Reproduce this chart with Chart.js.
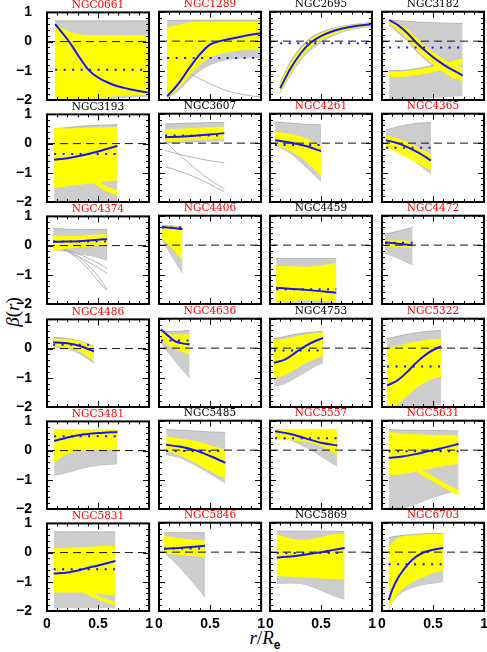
<!DOCTYPE html>
<html><head><meta charset="utf-8">
<script src="https://cdn.jsdelivr.net/npm/chart.js@4.4.1/dist/chart.umd.min.js"></script>
<style>
html,body{margin:0;padding:0;background:#fff;}
#wrap{position:relative;width:487px;height:652px;overflow:hidden;background:#fff;}
.axt{position:absolute;font-family:'Liberation Serif',serif;color:#000;white-space:nowrap;text-align:center;}
canvas{position:absolute;}
</style></head><body><div id="wrap">
<div class="axt" id="ylab" style="left:-22px;top:301px;width:70px;height:22px;line-height:22px;font-size:19px;transform:rotate(-90deg);"><i>β</i>(<i>r</i>)</div>
<div class="axt" id="xlab" style="left:215px;top:627px;width:100px;line-height:22px;font-size:19px;"><i>r</i>/<i>R</i><sub style="font-size:12px;font-style:normal;font-family:'Liberation Sans',sans-serif;font-weight:bold">e</sub></div>
</div>
<script>
// ---------------- data ----------------
const galaxies = ['NGC0661','NGC1289','NGC2695','NGC3182','NGC3193','NGC3607','NGC4261','NGC4365',
  'NGC4374','NGC4406','NGC4459','NGC4472','NGC4486','NGC4636','NGC4753','NGC5322',
  'NGC5481','NGC5485','NGC5557','NGC5631','NGC5831','NGC5846','NGC5869','NGC6703'];
const titleRed = [1,1,0,0, 0,0,1,1, 1,1,0,1, 1,1,0,1, 1,0,1,1, 1,1,0,1];

const xTickValues = [0, 0.5, 1];
const xTickLabels = ['0', '0.5', '1'];
const yTickValues = [-2, -1, 0, 1];
const yTickLabels = ['\u22122', '\u22121', '0', '1'];
const zeroLineR = [0, 1];

// radii sampled in each panel (r/Re)
const radii = [
  [0.08,0.2,0.3,0.4,0.5,0.6,0.7,0.8,0.9,1.0],
  [0.08,0.2,0.3,0.4,0.5,0.6,0.7,0.8,0.9,1.0],
  [0.1,0.2,0.3,0.4,0.5,0.6,0.7,0.8,0.9,1.0],
  [0.07,0.15,0.25,0.35,0.45,0.55,0.65,0.72,0.79],
  [0.07,0.2,0.35,0.5,0.6,0.69],
  [0.06,0.2,0.35,0.5,0.64],
  [0.05,0.2,0.35,0.5],
  [0.04,0.15,0.26,0.37,0.48],
  [0.06,0.2,0.35,0.5,0.59],
  [0.03,0.13,0.23],
  [0.06,0.35,0.65],
  [0.03,0.16,0.3],
  [0.06,0.2,0.33,0.46],
  [0.02,0.08,0.15,0.22,0.3],
  [0.04,0.15,0.25,0.35,0.45,0.52],
  [0.05,0.15,0.25,0.35,0.45,0.52,0.58],
  [0.07,0.2,0.35,0.5,0.69],
  [0.07,0.2,0.35,0.5,0.65],
  [0.05,0.2,0.35,0.5,0.66],
  [0.065,0.2,0.35,0.5,0.65,0.75],
  [0.065,0.2,0.35,0.5,0.67],
  [0.05,0.2,0.35,0.45],
  [0.066,0.2,0.35,0.5,0.6,0.73],
  [0.065,0.1,0.15,0.2,0.3,0.4,0.5,0.6]
];

// blue solid curve
const betaMedian = [
  [0.6,0.08,-0.44,-0.94,-1.23,-1.41,-1.54,-1.62,-1.69,-1.75],
  [-1.88,-1.4,-0.9,-0.45,-0.12,0.0,0.08,0.15,0.22,0.27],
  [-1.6,-0.94,-0.42,-0.05,0.17,0.32,0.42,0.49,0.54,0.58],
  [0.71,0.56,0.27,-0.1,-0.4,-0.67,-0.9,-1.03,-1.17],
  [-0.55,-0.5,-0.4,-0.27,-0.17,-0.08],
  [0.2,0.22,0.25,0.29,0.34],
  [0.1,0.02,-0.1,-0.27],
  [0.1,0.0,-0.15,-0.35,-0.59],
  [0.13,0.14,0.16,0.2,0.22],
  [0.62,0.58,0.55],
  [-1.45,-1.52,-1.62],
  [0.09,0.05,0.0],
  [0.22,0.18,0.08,-0.1],
  [0.63,0.45,0.25,0.17,0.13],
  [-0.5,-0.38,-0.15,0.08,0.25,0.34],
  [-1.27,-1.1,-0.8,-0.45,-0.17,-0.03,0.06],
  [0.33,0.45,0.55,0.6,0.64],
  [0.18,0.12,0.0,-0.2,-0.43],
  [0.64,0.55,0.4,0.25,0.16],
  [-0.26,-0.22,-0.12,0.0,0.12,0.21],
  [-0.72,-0.68,-0.57,-0.44,-0.29],
  [0.11,0.14,0.18,0.22],
  [-0.18,-0.15,-0.08,0.0,0.06,0.14],
  [-1.63,-1.28,-0.92,-0.65,-0.25,-0.02,0.08,0.14]
];

// blue dotted level
const betaDotted = [-0.96,-0.57,-0.07,-0.22, -0.36,0.26,-0.06,-0.16, 0.14,0.6,-1.5,0.08,
  0.13,0.26,-0.08,-0.62, 0.49,-0.03,0.4,-0.04, -0.57,0.12,-0.03,-0.41];

// envelope of the grey models
const grayUpper = [
  [0.71,0.71,0.71,0.71,0.71,0.71,0.71,0.71,0.71,0.71],
  [0.7,0.71,0.71,0.71,0.71,0.71,0.71,0.71,0.71,0.71],
  [-1.4,-0.7,-0.2,0.12,0.3,0.42,0.5,0.56,0.6,0.64],
  [0.72,0.7,0.67,0.65,0.63,0.62,0.61,0.6,0.6],
  [0.5,0.55,0.6,0.63,0.64,0.65],
  [0.65,0.67,0.68,0.7,0.7],
  [0.72,0.68,0.64,0.62],
  [0.45,0.55,0.63,0.68,0.7],
  [0.6,0.56,0.55,0.55,0.55],
  [0.67,0.65,0.62],
  [-0.45,-0.45,-0.45],
  [0.37,0.48,0.6],
  [0.38,0.35,0.25,0.08],
  [0.55,0.56,0.57,0.58,0.6],
  [0.32,0.4,0.47,0.52,0.55,0.57],
  [0.32,0.4,0.47,0.53,0.57,0.59,0.6],
  [0.7,0.7,0.7,0.7,0.7],
  [0.7,0.68,0.65,0.62,0.6],
  [0.7,0.7,0.7,0.7,0.7],
  [0.7,0.68,0.67,0.67,0.66,0.65],
  [0.71,0.71,0.71,0.71,0.71],
  [0.66,0.66,0.66,0.66],
  [0.71,0.71,0.71,0.71,0.71,0.71],
  [0.48,0.52,0.55,0.57,0.6,0.62,0.63,0.63]
];
const grayLower = [
  [-2,-2,-2,-2,-2,-1.95,-1.92,-1.9,-1.88,-1.86],
  [-1.95,-1.65,-1.3,-1.0,-0.8,-0.68,-0.6,-0.57,-0.55,-0.55],
  [-1.75,-1.15,-0.65,-0.3,-0.05,0.15,0.3,0.4,0.46,0.5],
  [0.55,0.3,0.0,-0.4,-0.7,-0.95,-1.15,-1.25,-1.35],
  [-2,-2,-1.98,-1.96,-1.95,-1.95],
  [0.0,0.02,0.05,0.07,0.08],
  [-0.05,-0.35,-0.8,-1.3],
  [-0.05,-0.2,-0.45,-0.75,-1.05],
  [-0.15,-0.2,-0.3,-0.4,-0.5],
  [0.2,-0.4,-0.95],
  [-2,-2,-2],
  [-0.27,-0.45,-0.67],
  [0.05,0.0,-0.2,-0.5],
  [0.2,-0.1,-0.4,-0.7,-1.0],
  [-1.3,-1.2,-1.0,-0.8,-0.6,-0.5],
  [-2,-2,-2,-1.98,-1.95,-1.93,-1.9],
  [-0.85,-0.75,-0.6,-0.5,-0.45],
  [-0.15,-0.25,-0.5,-0.8,-1.12],
  [0.5,0.35,0.1,-0.2,-0.55],
  [-1.95,-1.95,-1.8,-1.6,-1.45,-1.35],
  [-1.89,-1.89,-1.89,-1.89,-1.89],
  [0.0,-0.5,-1.1,-1.52],
  [-1.06,-1.05,-1.1,-1.3,-1.45,-1.6],
  [-1.95,-1.7,-1.5,-1.35,-1.2,-1.1,-1.05,-1.0]
];
// second grey bundle (panel index -> values)
const grayUpper2 = {3: [-1.0,-1.0,-0.98,-0.93,-0.86,-0.78,-0.7,-0.63,-0.55]};
const grayLower2 = {3: [-1.95,-1.95,-1.94,-1.93,-1.92,-1.9,-1.88,-1.86,-1.85]};
// individual grey outlier models
const grayStrands = {
  1: [[-0.9,-1.0,-1.1,-1.28,-1.45,-1.6,-1.72,-1.8,-1.86,-1.9]],
  5: [[-0.25,-0.38,-0.5,-0.6,-0.67],[0.05,-0.4,-0.85,-1.25,-1.55],[-0.8,-0.95,-1.15,-1.4,-1.65]],
  8: [[0.0,-0.2,-0.6,-1.2,-1.55],[0.0,-0.15,-0.5,-1.05,-1.5],[-0.05,-0.2,-0.45,-0.75,-0.95],[-0.05,-0.15,-0.35,-0.6,-0.78]]
};

// envelope of the yellow models
const yellowUpper = [
  [0.6,0.35,0.25,0.2,0.2,0.2,0.2,0.2,0.2,0.2],
  [0.45,0.55,0.62,0.64,0.64,0.64,0.64,0.64,0.64,0.64],
  [-1.45,-0.78,-0.3,0.05,0.25,0.38,0.47,0.53,0.58,0.62],
  [0.7,0.6,0.4,0.05,-0.25,-0.5,-0.72,-0.85,-0.95],
  [0.52,0.5,0.52,0.54,0.55,0.55],
  [0.45,0.47,0.5,0.52,0.55],
  [0.37,0.3,0.15,-0.1],
  [0.25,0.15,0.0,-0.2,-0.38],
  [0.35,0.3,0.33,0.36,0.37],
  [0.65,0.62,0.6],
  [-0.72,-0.75,-0.62],
  [0.15,0.15,0.12],
  [0.32,0.3,0.22,0.05],
  [0.62,0.5,0.45,0.45,0.45],
  [0.25,0.3,0.38,0.45,0.5,0.52],
  [0.0,0.05,0.15,0.22,0.27,0.3,0.3],
  [0.7,0.7,0.7,0.7,0.7],
  [0.45,0.38,0.3,0.15,0.0],
  [0.7,0.7,0.7,0.7,0.7],
  [0.6,0.55,0.52,0.5,0.5,0.48],
  [0.14,0.15,0.17,0.2,0.22],
  [0.54,0.46,0.4,0.37],
  [0.6,0.45,0.4,0.5,0.58,0.6],
  [0.1,0.3,0.45,0.52,0.56,0.58,0.6,0.6]
];
const yellowLower = [
  [-2,-2,-1.98,-1.95,-1.92,-1.88,-1.85,-1.83,-1.82,-1.82],
  [-1.9,-1.55,-1.15,-0.8,-0.55,-0.42,-0.35,-0.3,-0.28,-0.27],
  [-1.7,-1.08,-0.55,-0.2,0.05,0.22,0.35,0.44,0.5,0.54],
  [0.62,0.4,0.1,-0.3,-0.62,-0.92,-1.15,-1.27,-1.35],
  [-1.5,-1.45,-1.38,-1.32,-1.28,-1.25],
  [0.08,0.1,0.12,0.14,0.16],
  [-0.04,-0.25,-0.6,-1.12],
  [-0.12,-0.3,-0.5,-0.7,-0.9],
  [-0.18,-0.08,-0.03,0.0,0.0],
  [0.25,-0.1,-0.5],
  [-1.95,-1.85,-1.9],
  [-0.02,-0.05,-0.08],
  [0.1,0.05,-0.1,-0.4],
  [0.3,0.15,0.0,-0.1,-0.2],
  [-1.0,-0.9,-0.7,-0.5,-0.35,-0.25],
  [-2,-1.9,-1.6,-1.3,-1.1,-1.0,-0.95],
  [-0.4,-0.1,0.0,0.05,0.05],
  [0.0,-0.15,-0.4,-0.7,-0.95],
  [0.4,0.35,0.3,0.15,-0.15],
  [-0.85,-0.8,-0.7,-0.6,-0.5,-0.45],
  [-1.35,-1.35,-1.35,-1.4,-1.45],
  [-0.03,-0.08,-0.12,-0.14],
  [-0.8,-0.82,-0.85,-0.88,-0.9,-0.92],
  [-1.9,-1.7,-1.45,-1.25,-1.0,-0.85,-0.7,-0.6]
];
// second yellow bundle / branch (panel index -> values on that panel's radii)
const yellowUpper2 = {
  3: [-1.05,-1.05,-1.03,-0.98,-0.92,-0.84,-0.75,-0.67,-0.6],
  4: [null,null,-0.95,-1.3,-1.5,-1.6],
  19: [null,null,-0.6,-0.9,-1.2,-1.38],
  20: [null,null,-1.25,-1.5,-1.7]
};
const yellowLower2 = {
  3: [-1.2,-1.2,-1.18,-1.13,-1.07,-1.0,-0.92,-0.85,-0.78],
  4: [null,null,-1.1,-1.45,-1.65,-1.75],
  19: [null,null,-0.75,-1.05,-1.35,-1.52],
  20: [null,null,-1.35,-1.6,-1.8]
};

// ---------------- drawing ----------------
const BLUE = '#1515ff';
const YELLOW = '#ffff00';
const GRAY_FILL = '#cdcdcd';
const GRAY_LINE = '#ababab';
const COLS = [47, 159, 270, 382];
const ROWS = [12, 114, 216, 319, 421, 523];
const PW = 102, PH = 88;

function pts(xs, ys) { return xs.map((x, k) => ({x: x, y: ys[k]})); }

const frameTicks = {
  id: 'frameTicks',
  afterDatasetsDraw(chart) {
    const {ctx, chartArea: a} = chart;
    const x = chart.scales.x, y = chart.scales.y;
    ctx.save();
    ctx.strokeStyle = '#000';
    ctx.lineWidth = 1;
    ctx.beginPath();
    for (let k = 0; k <= 10; k++) {
      const px = Math.round(x.getPixelForValue(k / 10)) + 0.5;
      const len = (k % 5 === 0) ? 6 : 3;
      ctx.moveTo(px, a.bottom); ctx.lineTo(px, a.bottom - len);
      ctx.moveTo(px, a.top); ctx.lineTo(px, a.top + len);
    }
    for (let k = 0; k <= 15; k++) {
      const py = Math.round(y.getPixelForValue(-2 + k * 0.2)) + 0.5;
      const len = (k % 5 === 0) ? 6 : 3;
      ctx.moveTo(a.left, py); ctx.lineTo(a.left + len, py);
      ctx.moveTo(a.right, py); ctx.lineTo(a.right - len, py);
    }
    ctx.stroke();
    ctx.lineWidth = 2;
    ctx.strokeRect(a.left, a.top, a.right - a.left, a.bottom - a.top);
    ctx.restore();
  }
};

function buildDatasets(i) {
  const xs = radii[i];
  const ds = [];
  ds.push({data: pts(xs, betaMedian[i]), borderColor: BLUE, borderWidth: 2, order: 0});
  const d = betaDotted[i];
  ds.push({data: [{x: xs[0], y: d}, {x: xs[xs.length - 1], y: d}], borderColor: BLUE,
    borderWidth: 2, borderDash: [2, 6.5], order: 1});
  ds.push({data: [{x: zeroLineR[0], y: 0}, {x: zeroLineR[1], y: 0}], borderColor: '#111',
    borderWidth: 1, borderDash: [8, 5], order: 2});
  const band = (hi, lo, fillCol, lineCol, lw, ord) => {
    ds.push({data: pts(xs, hi), fill: '+1', backgroundColor: fillCol, borderColor: lineCol, borderWidth: lw, order: ord});
    ds.push({data: pts(xs, lo), fill: false, borderColor: lineCol, borderWidth: lw, order: ord});
  };
  band(yellowUpper[i], yellowLower[i], YELLOW, YELLOW, 1, 3);
  if (yellowUpper2[i]) band(yellowUpper2[i], yellowLower2[i], YELLOW, YELLOW, 1, 3);
  (grayStrands[i] || []).forEach(s => ds.push({data: pts(xs, s), borderColor: GRAY_LINE, borderWidth: 0.9, order: 5}));
  band(grayUpper[i], grayLower[i], GRAY_FILL, GRAY_LINE, 0.8, 6);
  if (grayUpper2[i]) band(grayUpper2[i], grayLower2[i], GRAY_FILL, GRAY_LINE, 0.8, 6);
  return ds;
}

function config(i) {
  const row = Math.floor(i / 4), col = i % 4;
  return {
    type: 'line',
    data: {datasets: buildDatasets(i)},
    options: {
      responsive: false, maintainAspectRatio: false, animation: false, devicePixelRatio: 1,
      events: [],
      layout: {padding: {left: 4, right: 8, top: 2, bottom: 4}},
      elements: {point: {radius: 0}, line: {cubicInterpolationMode: 'monotone', fill: false}},
      plugins: {
        legend: {display: false}, tooltip: {enabled: false},
        title: {display: true, text: galaxies[i], color: titleRed[i] ? '#ff0000' : '#000000',
          fullSize: false, font: {family: "'DejaVu Serif', serif", size: 10.5, weight: 'normal', lineHeight: 1.4},
          padding: {top: 0, bottom: 0}}
      },
      scales: {
        x: {type: 'linear', min: 0, max: 1, display: row === 5,
          grid: {display: false, drawTicks: false, tickLength: 0}, border: {display: false},
          afterFit: s => { s.height = 22; },
          ticks: {stepSize: 0.5, autoSkip: false, maxRotation: 0, padding: 5, color: '#000',
            font: {family: "'Liberation Sans', sans-serif", weight: 'bold', size: 14},
            callback: v => { const k = xTickValues.indexOf(v); return k >= 0 ? xTickLabels[k] : ''; }}},
        y: {type: 'linear', min: -2, max: 1, display: col === 0,
          grid: {display: false, drawTicks: false, tickLength: 0}, border: {display: false},
          afterFit: s => { s.width = 40; },
          ticks: {stepSize: 1, autoSkip: false, padding: 15, color: '#000',
            font: {family: "'Liberation Sans', sans-serif", weight: 'bold', size: 14},
            callback: v => { const k = yTickValues.indexOf(v); return k >= 0 ? yTickLabels[k] : ''; }}}
      }
    },
    plugins: [frameTicks]
  };
}

const wrap = document.getElementById('wrap');
function makePanel(i) {
  const row = Math.floor(i / 4), col = i % 4;
  const L = COLS[col], T = ROWS[row];
  let cw = PW + 60, ch = PH + 50;
  let cv = document.createElement('canvas');
  cv.width = cw; cv.height = ch;
  wrap.appendChild(cv);
  let chart = new Chart(cv, config(i));
  const a = chart.chartArea;
  const nw = cw + (PW - (a.right - a.left));
  const nh = ch + (PH - (a.bottom - a.top));
  chart.destroy();
  wrap.removeChild(cv);
  cv = document.createElement('canvas');
  cv.width = Math.round(nw); cv.height = Math.round(nh);
  cv.style.width = Math.round(nw) + 'px'; cv.style.height = Math.round(nh) + 'px';
  wrap.appendChild(cv);
  chart = new Chart(cv, config(i));
  cv.style.left = (L - chart.chartArea.left) + 'px';
  cv.style.top = (T - chart.chartArea.top) + 'px';
}
for (let i = 0; i < galaxies.length; i++) makePanel(i);
</script>
</body></html>
